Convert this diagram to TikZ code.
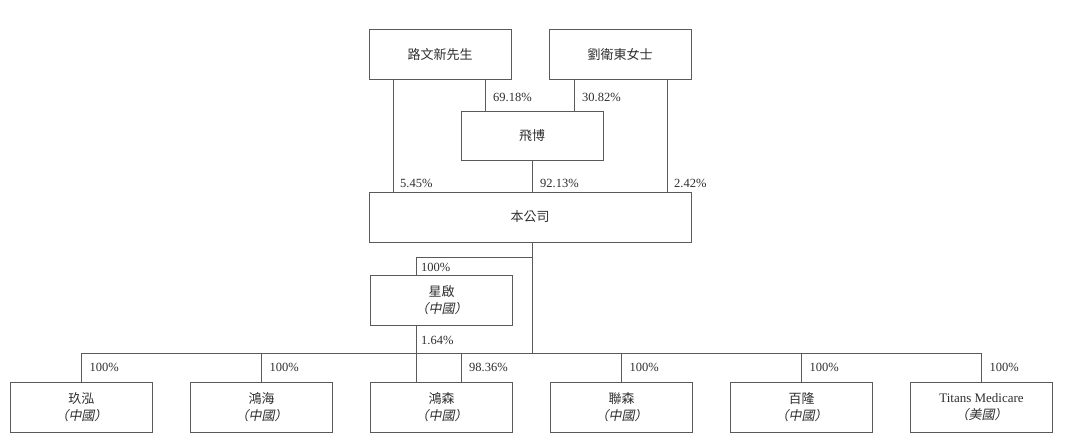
\documentclass[tikz,border=0pt]{standalone}
\usepackage{fontspec}
\setmainfont{Liberation Serif}
\newfontfamily\cjk{Noto Sans CJK TC}
\newfontfamily\cjkit{Noto Sans CJK TC}[FakeSlant=0.2]
\usetikzlibrary{positioning,calc}
\definecolor{linegray}{HTML}{5A5A5A}
\definecolor{txtgray}{HTML}{2E2E2E}
\def\cn#1{{\cjk #1}}
\def\place#1{{\cjkit （#1）}}

\begin{document}
\begin{tikzpicture}[x=1pt,y=-1pt,
	box/.style={draw=linegray,line width=0.8pt,text=txtgray,minimum width=142pt,minimum height=50pt,inner sep=0pt,align=center,font=\fontsize{13}{17}\selectfont},
	pct/.style={anchor=west,inner sep=0pt,text=txtgray,font=\fontsize{12.5}{14}\selectfont},
	link/.style={draw=linegray,line width=0.8pt}]
			\useasboundingbox (0,0) rectangle (1080,445);
			\node[box] (lu) at (440,54.5) {\cn{路文新先生}};
			\node[box] (liu) at (620,54.5) {\cn{劉衛東女士}};
			\node[box,minimum height=49pt] (feibo) at (532,135.5) {\cn{飛博}};
			\node[box,minimum width=322pt] (company) at (530,217) {\cn{本公司}};
			\node[box] (xingqi) at (441.5,300.5) {\cn{星啟}\\\place{中國}};
			\node[box] (jiuhong) at (81.5,407.5) {\cn{玖泓}\\\place{中國}};
			\node[box] (honghai) at (261.5,407.5) {\cn{鴻海}\\\place{中國}};
			\node[box] (hongsen) at (441.5,407.5) {\cn{鴻森}\\\place{中國}};
			\node[box] (liansen) at (621.5,407.5) {\cn{聯森}\\\place{中國}};
			\node[box] (bailong) at (801.5,407.5) {\cn{百隆}\\\place{中國}};
			\node[box] (titans) at (981.5,407.5) {Titans Medicare\\\place{美國}};
			\coordinate (busl) at (81.5,353);
			\coordinate (busr) at (981.5,353);
			\coordinate (split) at (532,257);

			\begin{scope}[link]
			\draw ([xshift=-47pt]lu.south) -- ([xshift=-47pt]lu.south |- company.north);
			\draw ([xshift=45pt]lu.south) -- ([xshift=45pt]lu.south |- feibo.north);
			\draw ([xshift=-46pt]liu.south) -- ([xshift=-46pt]liu.south |- feibo.north);
			\draw ([xshift=47pt]liu.south) -- ([xshift=47pt]liu.south |- company.north);
			\draw (feibo.south) -- (feibo.south |- company.north);
			\draw (company.south -| split) -- (split |- busl);
			\draw (split) -| ([xshift=-25.5pt]xingqi.north);
			\draw ([xshift=-25.5pt]xingqi.south) -- ([xshift=-25.5pt]hongsen.north);
			\draw (busl) -- (busr);
			\foreach \b in {jiuhong,honghai,liansen,bailong,titans}
			\draw (\b.north |- busl) -- (\b.north);
			\draw ([xshift=20pt]hongsen.north |- busl) -- ([xshift=20pt]hongsen.north);
			\end{scope}

			\node[pct] (p1) at (493,97) {69.18\%};
			\node[pct] (p2) at (582,97) {30.82\%};
			\node[pct] (p3) at (400,183) {5.45\%};
			\node[pct] (p4) at (540,183) {92.13\%};
			\node[pct] (p5) at (674,183) {2.42\%};
			\node[pct] (p6) at (421,267) {100\%};
			\node[pct] (p7) at (421,340) {1.64\%};
			\foreach \b in {jiuhong,honghai,liansen,bailong,titans}
			\node[pct] at ([xshift=8pt]\b.north |- 0,367) {100\%};
			\node[pct] (p8) at (469,367) {98.36\%};
\end{tikzpicture}
\end{document}
